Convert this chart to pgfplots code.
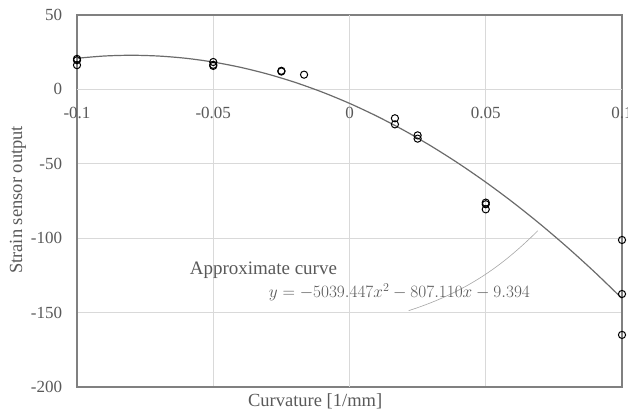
\documentclass[border=0pt]{standalone}
\usepackage{fontspec}
\setmainfont{Liberation Serif}
\usepackage{pgfplots}
\pgfplotsset{compat=1.18}
\definecolor{txt}{HTML}{595959}
\definecolor{gridc}{HTML}{D9D9D9}
\definecolor{axc}{HTML}{808080}
\begin{document}
\fontsize{17}{20}\selectfont
\begin{tikzpicture}
\begin{axis}[
  scale only axis, width=545pt, height=372pt,
  xmin=-0.1, xmax=0.1, ymin=-200, ymax=50,
  xtick={-0.1,-0.05,0.05,0.1}, xticklabels={-0.1,-0.05,0.05,0.1},
  extra x ticks={0}, extra x tick labels={0},
  ytick={-200,-150,-100,-50,50}, yticklabels={-200,-150,-100,-50,50},
  extra y ticks={0}, extra y tick labels={0},
  extra x tick style={grid style={axc, line width=1pt}},
  extra y tick style={grid style={axc, line width=1pt}},
  grid=major, major grid style={gridc, line width=0.8pt},
  axis line style={axc, line width=1.3pt},
  major tick length=0pt,
  tick label style={font=\fontsize{17}{20}\selectfont, text=txt},
  xticklabel style={yshift=286pt},
  yticklabel style={xshift=-9pt},
  xlabel={Curvature [1/mm]},
  xlabel style={at={(rel axis cs:0.437,0)}, anchor=center, yshift=-14pt, text=txt, font=\fontsize{18.5}{21}\selectfont},
  ylabel={Strain sensor output},
  ylabel style={at={(rel axis cs:0,0.503)}, anchor=center, rotate=0, yshift=59pt, text=txt, font=\fontsize{18.5}{21}\selectfont},
  clip=false,
]
\coordinate (bl) at (rel axis cs:0,0);
\coordinate (tr) at (rel axis cs:1,1);
% fitted curve
\addplot[smooth, color=black!58, line width=1.2pt] coordinates {
(-0.1,20.92) (-0.09,22.43) (-0.08,22.93) (-0.07,22.41) (-0.06,20.90) (-0.05,18.37)
(-0.04,14.83) (-0.03,10.28) (-0.02,4.73) (-0.01,-1.83) (0,-9.39)
(0.01,-17.97) (0.02,-27.55) (0.03,-38.14) (0.04,-49.74) (0.05,-62.35)
(0.06,-75.96) (0.07,-90.58) (0.08,-106.21) (0.09,-122.85) (0.1,-140.50)};
% measured points
\addplot[only marks, mark=o, mark size=3.6pt, mark options={line width=1pt, black}] coordinates {
(-0.1,20.5) (-0.1,19.6) (-0.1,16.3)
(-0.05,18.4) (-0.05,16.5) (-0.05,15.8)
(-0.025,12.5) (-0.025,12.0)
(-0.01667,9.9)
(0.01667,-19.4) (0.01667,-23.5)
(0.025,-30.9) (0.025,-33.1)
(0.05,-76.1) (0.05,-77.2) (0.05,-80.6)
(0.1,-101.2) (0.1,-137.5) (0.1,-165.0)};
\draw[black!35, line width=0.6pt] (axis cs:0.0217,-148.7) .. controls (axis cs:0.045,-135) and (axis cs:0.058,-115) .. (axis cs:0.0691,-95);
\node[text=txt, font=\fontsize{19}{22}\selectfont] at (axis cs:-0.0316,-121.4) {Approximate curve};
\node[text=txt, font=\fontsize{18}{21}\selectfont] at (axis cs:0.0183,-136.6) {$y=-5039.447x^2-807.110x-9.394$};
\end{axis}
\pgfresetboundingbox
\useasboundingbox ([xshift=-77pt,yshift=-29pt]bl) rectangle ([xshift=6pt,yshift=15pt]tr);
\end{tikzpicture}
\end{document}
